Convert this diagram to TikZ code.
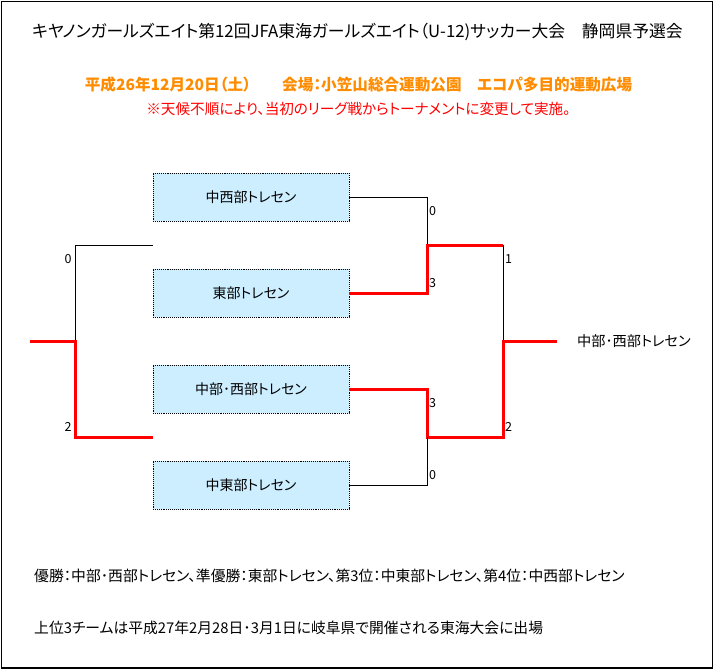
\documentclass[tikz,border=0pt]{standalone}
\usepackage{fontspec}
\setmainfont{Noto Sans CJK JP}[RawFeature=+palt]
\definecolor{boxblue}{HTML}{CCEEFF}
\definecolor{orng}{HTML}{FF8C00}
\definecolor{winred}{HTML}{FF0000}
\tikzset{
  team/.style={draw=black, densely dotted, line width=0.9pt, fill=boxblue, minimum width=196pt, minimum height=48pt, inner sep=0pt, font=\fontsize{14}{16}\selectfont},
  lose/.style={draw=black, line width=1pt},
  win/.style={draw=winred, line width=3pt},
  score/.style={inner sep=0pt, font=\fontsize{12.5}{14}\selectfont},
  txt/.style={inner sep=0pt, anchor=west}
}
\begin{document}
\begin{tikzpicture}[x=1pt,y=-1pt]
\useasboundingbox (0,0) rectangle (715,670);
\draw[line width=1.5pt] (1.5,1.5) rectangle (712.5,668);
% titles
\node[inner sep=0pt, font=\fontsize{16.8}{18}\selectfont] (title) at (357.5,32) {キヤノンガールズエイト第12回JFA東海ガールズエイト（U-12)サッカー大会　静岡県予選会};
\node[inner sep=0pt, text=orng, font=\fontsize{15.6}{17}\selectfont\bfseries] (date) at (358.5,85) {平成26年12月20日（土）　　会場：小笠山総合運動公園　エコパ多目的運動広場};
\node[inner sep=0pt, text=winred, font=\fontsize{14.6}{16}\selectfont] (note) at (358.5,109) {※天候不順により、当初のリーグ戦からトーナメントに変更して実施。};
% teams
\node[team] (b1) at (251,197) {中西部トレセン};
\node[team] (b2) at (251,293) {東部トレセン};
\node[team] (b3) at (251,389) {中部･西部トレセン};
\node[team] (b4) at (251,485) {中東部トレセン};
% coordinates
\coordinate (l1) at (153,245);
\coordinate (l2) at (153,437);
\coordinate (lj) at (75,341);
\coordinate (lout) at (30,341);
\coordinate (fj) at (503,341);
\coordinate (fout) at (557,341);
% left bracket
\draw[lose] (l1) -| (lj);
\draw[win] (lout) -- (lj) |- (l2);
% right first round
\draw[lose] (b1.east) -| (427,245);
\draw[win] (b2.east) -| (427,245) -- (503,245);
\draw[lose] (503,245) -- (fj);
\draw[win] (fout) -- (fj) -- (503,437) -- (427,437) |- (b3.east);
\draw[lose] (427,437) |- (b4.east);
% scores
\node[score] at (68,259.5) {0};
\node[score] at (68,427) {2};
\node[score] at (432.6,211) {0};
\node[score] at (432.6,283) {3};
\node[score] at (432.6,403.5) {3};
\node[score] at (432.6,475) {0};
\node[score] at (508.5,259.5) {1};
\node[score] at (508.5,427) {2};
% winner
\node[txt, font=\fontsize{14.2}{16}\selectfont] (winner) at (577,341) {中部･西部トレセン};
% results
\node[txt, font=\fontsize{14.8}{16}\selectfont] (res) at (34,576) {優勝：中部･西部トレセン、準優勝：東部トレセン、第3位：中東部トレセン、第4位：中西部トレセン};
\node[txt, font=\fontsize{14.8}{16}\selectfont] (adv) at (34,628) {上位3チームは平成27年2月28日･3月1日に岐阜県で開催される東海大会に出場};
\end{tikzpicture}
\end{document}
